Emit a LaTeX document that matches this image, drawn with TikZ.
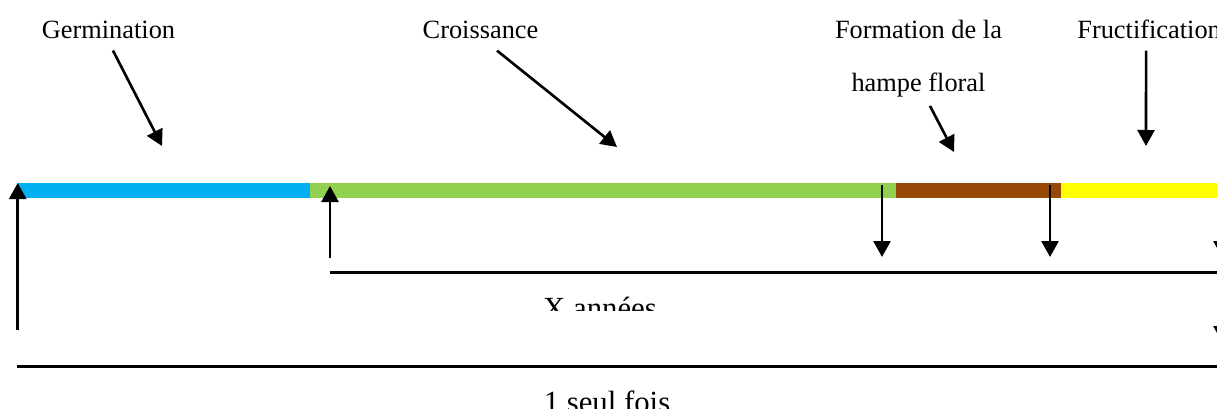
\documentclass[tikz,border=0pt]{standalone}
\usepackage{fontspec}
\setmainfont{Liberation Serif}
\usetikzlibrary{arrows.meta,positioning}
\definecolor{germblue}{HTML}{00B0F0}
\definecolor{growgreen}{HTML}{92D050}
\definecolor{stalkbrown}{HTML}{984806}
\definecolor{fruityellow}{HTML}{FFFF00}

\begin{document}
\begin{tikzpicture}[
  lbl/.style={font=\fontsize{15}{18}\selectfont,anchor=base,inner sep=0pt},
  spanlbl/.style={font=\fontsize{17.5}{21}\selectfont,anchor=base,inner sep=0pt},
  arr/.style={-{Triangle[width=0.34cm,length=0.32cm]},line width=1.5pt},
  spanline/.style={line width=1.2pt}]
\useasboundingbox (0,0) rectangle (24.34,8.16);
\clip (0,0) rectangle (24.34,8.16);
% phase bar
\fill[germblue] (0.36,4.2) rectangle (6.2,4.5);
\fill[growgreen] (6.2,4.2) rectangle (17.92,4.5);
\fill[stalkbrown] (17.92,4.2) rectangle (21.22,4.5);
\fill[fruityellow] (21.22,4.2) rectangle (24.6,4.5);
% phase labels
\node[lbl] (germ) at (2.17,7.4) {Germination};
\node[lbl] (croiss) at (9.61,7.4) {Croissance};
\node[lbl,align=center,font=\fontsize{15}{30.4}\selectfont] (hampe) at (18.37,6.33) {Formation de la\\hampe floral};
\node[lbl,anchor=base west] (fruct) at (21.54,7.4) {Fructification};
\coordinate (germtip) at (3.24,5.24);
\coordinate (croisstip) at (12.34,5.22);
\coordinate (hampetip) at (19.08,5.12);
\coordinate (fructtip) at (22.92,5.24);
\draw[arr] ([xshift=0.09cm,yshift=-0.24cm]germ.south) -- (germtip);
\draw[arr] ([xshift=0.33cm,yshift=-0.24cm]croiss.south) -- (croisstip);
\draw[arr] ([xshift=0.23cm,yshift=-0.17cm]hampe.south) -- (hampetip);
\draw[arr] ([xshift=-0.06cm,yshift=-0.24cm]fruct.south) -- (fructtip);
% start and end marks
\coordinate (seedfoot) at (0.354,1.56);
\coordinate (seedtop) at (0.354,4.5);
\coordinate (growfoot) at (6.6,3.0);
\coordinate (growtop) at (6.6,4.44);
\draw[arr] (seedfoot) -- (seedtop);
\draw[arr] (growfoot) -- (growtop);
\foreach \x/\n in {17.64/a,21.0/b,24.44/c}{
  \coordinate (top\n) at (\x,4.46);
  \coordinate (end\n) at (\x,3.02);
  \draw[arr] (top\n) -- (end\n);
}
\coordinate (lasttop) at (24.44,2.6);
\coordinate (lastend) at (24.44,1.32);
\draw[arr] (lasttop) -- (lastend);
% durations
\coordinate (yearsleft) at (6.6,2.71);
\coordinate (yearsright) at (24.6,2.71);
\coordinate (onceleft) at (0.34,0.83);
\coordinate (onceright) at (24.6,0.83);
\draw[spanline] (yearsleft) -- (yearsright);
\draw[spanline] (onceleft) -- (onceright);
\begin{scope}
\clip (0,1.96) rectangle (24.34,8.16);
\node[spanlbl] (years) at (12.0,1.786) {X années};
\end{scope}
\node[spanlbl] (once) at (12.14,-0.08) {1 seul fois};
\end{tikzpicture}
\end{document}
